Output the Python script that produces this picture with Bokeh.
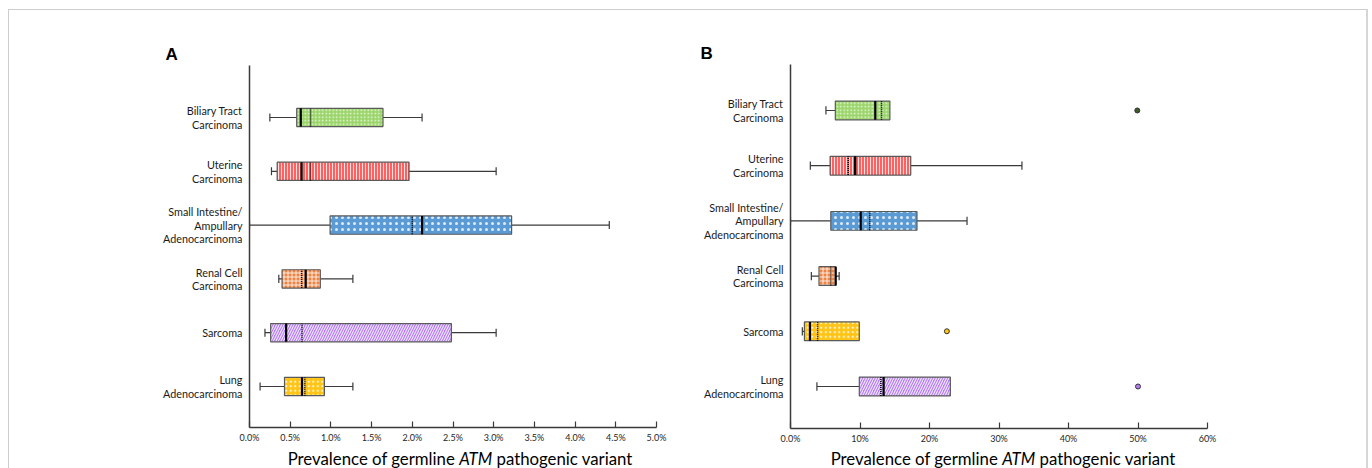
from bokeh.plotting import figure
from bokeh.models import Range1d, FixedTicker, CustomJSTickFormatter, Div
from bokeh.layouts import row, column
from bokeh.embed import file_html
from bokeh.resources import INLINE

# ---------------- data ----------------
categories = ["Biliary Tract\nCarcinoma", "Uterine\nCarcinoma",
              "Small Intestine/\nAmpullary\nAdenocarcinoma",
              "Renal Cell\nCarcinoma", "Sarcoma", "Lung\nAdenocarcinoma"]
ypos = [6, 5, 4, 3, 2, 1]

# Panel A (% prevalence)
a_low = [0.25, 0.27, 0.00, 0.36, 0.19, 0.13]
a_q1 = [0.58, 0.34, 0.99, 0.40, 0.26, 0.43]
a_med = [0.63, 0.64, 2.12, 0.69, 0.45, 0.645]
a_mean = [0.75, 0.75, 2.00, 0.64, 0.645, 0.68]
a_q3 = [1.64, 1.96, 3.22, 0.87, 2.48, 0.92]
a_high = [2.12, 3.03, 4.42, 1.27, 3.03, 1.27]
a_ticks = [0, 0.5, 1, 1.5, 2, 2.5, 3, 3.5, 4, 4.5, 5]

# Panel B (% prevalence)
b_low = [5.1, 2.85, 0.0, 3.0, 1.7, 3.8]
b_q1 = [6.45, 5.7, 5.8, 4.1, 2.0, 9.9]
b_med = [12.2, 9.3, 10.1, 6.5, 2.8, 13.4]
b_mean = [13.1, 8.3, 11.4, 5.8, 3.9, 13.0]
b_q3 = [14.3, 17.3, 18.2, 6.5, 9.9, 23.0]
b_high = [14.3, 33.3, 25.4, 7.0, 9.9, 23.0]
b_out_cat = [6, 2, 1]
b_out_val = [49.9, 22.5, 50.0]
b_ticks = [0, 10, 20, 30, 40, 50, 60]

# styles
green, red, blue, orange, purple, yellow = "#9bd56a", "#ff6060", "#5b9bd5", "#ee8444", "#b47cf4", "#ffc414"
a_colors = [green, red, blue, orange, purple, yellow]
a_hatch = ["dot", "vertical_line", "dot", "cross", "right_diagonal_line", "dot"]
a_hscale = [3.5, 3.0, 6.0, 4.0, 5.0, 4.5]
a_hweight = [1.0, 1.0, 0.6, 1.0, 1.2, 0.9]
b_colors = [green, red, blue, orange, yellow, purple]
b_hatch = ["dot", "vertical_line", "dot", "cross", "dot", "right_diagonal_line"]
b_hscale = [3.5, 3.0, 6.0, 4.0, 4.5, 5.0]
b_hweight = [1.0, 1.0, 0.6, 1.0, 0.9, 1.2]
b_out_colors = ["#3d5a2a", yellow, purple]

FONT = "Lato"
AX = "#3a3a3a"
FIG_H = 439


def make_panel(letter, letter_offset, xmax, ticks, fmt, yr, low, q1, med, mean, q3, high,
               colors, hatch, hscale, hweight, width, b_left, b_right, b_top, b_bottom):
    p = figure(width=width, height=FIG_H, x_range=Range1d(0, xmax), y_range=Range1d(*yr),
               output_backend="svg", toolbar_location=None,
               min_border_left=b_left, min_border_right=b_right,
               min_border_top=b_top, min_border_bottom=b_bottom)
    p.outline_line_color = None
    p.grid.visible = False
    p.background_fill_color = "white"
    p.border_fill_color = "white"

    p.title.text = letter
    p.title.align = "left"
    p.title.offset = letter_offset
    p.title.standoff = 4
    p.title.text_font = "Liberation Sans"
    p.title.text_font_style = "bold"
    p.title.text_font_size = "17px"
    p.title.text_color = "black"

    bh = 0.34
    cap = 0.075
    for i in range(len(ypos)):
        y = ypos[i]
        p.segment(x0=[low[i], q3[i]], y0=[y, y], x1=[q1[i], high[i]], y1=[y, y],
                  line_color=AX, line_width=1.2)
        caps = [low[i]] + ([high[i]] if high[i] > q3[i] else [])
        p.segment(x0=caps, y0=[y - cap] * len(caps), x1=caps, y1=[y + cap] * len(caps),
                  line_color=AX, line_width=1.2)
        p.hbar(y=[y], left=[q1[i]], right=[q3[i]], height=bh,
               fill_color=colors[i], hatch_pattern=hatch[i], hatch_color="white",
               hatch_scale=hscale[i], hatch_weight=hweight[i], hatch_alpha=0.8,
               line_color="#5a5a5a", line_width=1.2)
        p.segment(x0=[med[i]], y0=[y - bh / 2], x1=[med[i]], y1=[y + bh / 2],
                  line_color="black", line_width=2.2)
        p.segment(x0=[mean[i]], y0=[y - bh / 2], x1=[mean[i]], y1=[y + bh / 2],
                  line_color="black", line_width=1.5, line_dash="1 1")

    xa = p.xaxis[0]
    xa.ticker = FixedTicker(ticks=ticks)
    xa.formatter = CustomJSTickFormatter(code=fmt)
    xa.axis_line_color = AX
    xa.axis_line_width = 1.5
    xa.major_tick_in = 6
    xa.major_tick_out = 0
    xa.major_tick_line_color = AX
    xa.major_tick_line_width = 1.2
    xa.minor_tick_line_color = None
    xa.major_label_text_font = FONT
    xa.major_label_text_font_size = "9px"
    xa.major_label_text_color = "#262626"
    xa.major_label_standoff = 4

    ya = p.yaxis[0]
    ya.ticker = FixedTicker(ticks=ypos)
    ya.major_label_overrides = {ypos[i]: categories[i] for i in range(len(ypos))}
    ya.axis_line_color = AX
    ya.axis_line_width = 1.5
    ya.major_tick_line_color = None
    ya.major_tick_in = 0
    ya.major_tick_out = 0
    ya.minor_tick_line_color = None
    ya.major_label_text_font = FONT
    ya.major_label_text_font_size = "10.8px"
    ya.major_label_text_color = "#1a1a1a"
    ya.major_label_text_line_height = 1.05
    ya.major_label_standoff = 7
    return p


pA = make_panel("A", -84, 5, a_ticks, "return tick.toFixed(1) + '%';", (0.238, 6.966),
                a_low, a_q1, a_med, a_mean, a_q3, a_high, a_colors, a_hatch, a_hscale, a_hweight,
                679, 240, 32, 55, 22)
pB = make_panel("B", -90, 60, b_ticks, "return tick == 0 ? '0.0%' : tick.toFixed(0) + '%';",
                (0.239, 6.833),
                b_low, b_q1, b_med, b_mean, b_q3, b_high, b_colors, b_hatch, b_hscale, b_hweight,
                678, 102, 159, 54, 21)

pB.scatter(x=b_out_val, y=b_out_cat, size=5, fill_color=b_out_colors, line_color="#333333",
           line_width=1)

TITLE = 'Prevalence of germline <i>ATM</i> pathogenic variant'


def axis_title(width, left):
    html = ('<div style="width:420px; margin-left:%dpx; text-align:center; '
            'font-family:Lato; font-size:16.8px; line-height:19px; color:black; '
            'white-space:nowrap;">%s</div>' % (left, TITLE))
    return Div(text=html, width=width, height=19, margin=(0, 0, 0, 0))


colA = column(pA, axis_title(679, 460 - 210 - 9), spacing=0)
colB = column(pB, axis_title(678, 1003 - 210 - 688), spacing=0)

layout = row(colA, colB, spacing=0,
             styles={"border-top": "1px solid #cdcdcd",
                     "border-left": "1px solid #cdcdcd",
                     "border-right": "2px solid #d6d6d6",
                     "margin-left": "8px", "margin-top": "9px"})

open("out.html", "w").write(file_html(layout, INLINE))
